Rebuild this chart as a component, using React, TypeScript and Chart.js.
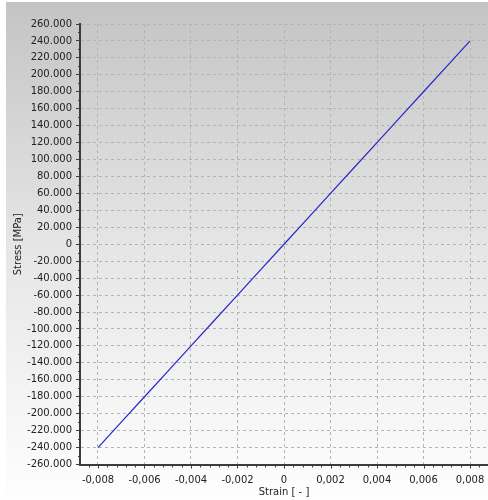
import React, { useEffect, useRef } from "react";
import { Chart, registerables } from "chart.js";

Chart.register(...registerables);

// Measured stress–strain points (linear elastic range)
const strain = [
  -0.008, -0.007, -0.006, -0.005, -0.004, -0.003, -0.002, -0.001, 0,
  0.001, 0.002, 0.003, 0.004, 0.005, 0.006, 0.007, 0.008,
];
const stress = [
  -240, -210, -180, -150, -120, -90, -60, -30, 0,
  30, 60, 90, 120, 150, 180, 210, 240,
];

// Axis ticks
const xTickValues = [-0.008, -0.006, -0.004, -0.002, 0, 0.002, 0.004, 0.006, 0.008];
const xMin = -0.008774;
const xMax = 0.008774;
const yMin = -260;
const yMax = 260;
const yStep = 20;

const xTitle = "Strain [ - ]";
const yTitle = "Stress [MPa]";

const FONT = "DejaVu Sans";
const AXIS_COLOR = "#3c3c3c";
const GRID_COLOR = "#b4b4b4";

const fmtX = (v: number) => (Math.abs(v) < 1e-12 ? "0" : v.toFixed(3).replace(".", ","));
const fmtY = (v: number) => (v === 0 ? "0" : v.toFixed(3));

const backgroundPlugin = {
  id: "panelBackground",
  beforeDraw(chart: any) {
    const { ctx, width, height } = chart;
    ctx.save();
    ctx.fillStyle = "#ffffff";
    ctx.fillRect(0, 0, width, height);
    const g = ctx.createLinearGradient(0, 2, 0, height);
    g.addColorStop(0, "#c4c4c4");
    g.addColorStop(0.5, "#e6e6e6");
    g.addColorStop(1, "#fefefe");
    ctx.fillStyle = g;
    ctx.fillRect(6, 2, width - 6, height - 2);
    ctx.restore();
  },
};

const decorPlugin = {
  id: "axisDecor",
  afterDraw(chart: any) {
    const { ctx, chartArea } = chart;
    const xs = chart.scales.x;
    const ys = chart.scales.y;
    ctx.save();
    ctx.strokeStyle = AXIS_COLOR;
    ctx.lineWidth = 1;
    // major and minor ticks on the strain axis
    const xMinor = 0.0004;
    const kx0 = Math.ceil(xMin / xMinor);
    const kx1 = Math.floor(xMax / xMinor);
    for (let k = kx0; k <= kx1; k++) {
      const len = k % 5 === 0 ? 4 : 3;
      const px = Math.round(xs.getPixelForValue(k * xMinor)) + 0.5;
      ctx.beginPath();
      ctx.moveTo(px, chartArea.bottom);
      ctx.lineTo(px, chartArea.bottom + len);
      ctx.stroke();
    }
    // minor ticks on the stress axis
    for (let v = yMin + 10; v < yMax; v += 20) {
      const py = Math.round(ys.getPixelForValue(v)) + 0.5;
      ctx.beginPath();
      ctx.moveTo(chartArea.left - 2, py);
      ctx.lineTo(chartArea.left, py);
      ctx.stroke();
    }
    // axis titles
    ctx.fillStyle = "#222222";
    ctx.font = `10px "${FONT}"`;
    ctx.textAlign = "center";
    ctx.textBaseline = "middle";
    ctx.fillText(xTitle, (chartArea.left + chartArea.right) / 2, 492);
    ctx.translate(18, (chartArea.top + chartArea.bottom) / 2);
    ctx.rotate(-Math.PI / 2);
    ctx.fillText(yTitle, 0, 0);
    ctx.restore();
  },
};

export default function App() {
  const ref = useRef<HTMLCanvasElement | null>(null);

  useEffect(() => {
    if (!ref.current) return;
    const chart = new Chart(ref.current, {
      type: "line",
      data: {
        datasets: [
          {
            data: strain.map((s, i) => ({ x: s, y: stress[i] })),
            borderColor: "#2626c8",
            borderWidth: 1.2,
            pointRadius: 0,
            tension: 0,
            fill: false,
          },
        ],
      },
      options: {
        responsive: false,
        animation: false,
        devicePixelRatio: 1,
        layout: { padding: { top: 24, left: 0, right: 0, bottom: 0 } },
        plugins: {
          legend: { display: false },
          tooltip: { enabled: false },
        },
        scales: {
          x: {
            type: "linear",
            min: xMin,
            max: xMax,
            afterBuildTicks: (scale: any) => {
              scale.ticks = xTickValues.map((v) => ({ value: v }));
            },
            afterFit: (scale: any) => {
              scale.height = 35.5;
            },
            ticks: {
              includeBounds: false,
              autoSkip: false,
              maxRotation: 0,
              padding: 0,
              color: "#222222",
              font: { family: FONT, size: 10 },
              callback: (v: any) => fmtX(Number(v)),
            },
            grid: {
              color: GRID_COLOR,
              lineWidth: 1,
              tickLength: 10,
              tickColor: "rgba(0,0,0,0)",
            },
            border: { display: true, color: AXIS_COLOR, width: 2, dash: [3, 3] },
          },
          y: {
            type: "linear",
            min: yMin,
            max: yMax,
            afterFit: (scale: any) => {
              scale.width = 80;
            },
            ticks: {
              stepSize: yStep,
              autoSkip: false,
              padding: 4,
              color: "#222222",
              font: { family: FONT, size: 10 },
              callback: (v: any) => fmtY(Number(v)),
            },
            grid: {
              color: GRID_COLOR,
              lineWidth: 1,
              tickLength: 4,
              tickColor: AXIS_COLOR,
              tickBorderDash: [],
            },
            border: { display: true, color: AXIS_COLOR, width: 2, dash: [3, 3] },
          },
        },
      },
      plugins: [backgroundPlugin, decorPlugin],
    } as any);
    return () => chart.destroy();
  }, []);

  return (
    <canvas
      ref={ref}
      width={488}
      height={500}
      style={{ position: "absolute", left: 0, top: 0, width: 488, height: 500 }}
    />
  );
}
